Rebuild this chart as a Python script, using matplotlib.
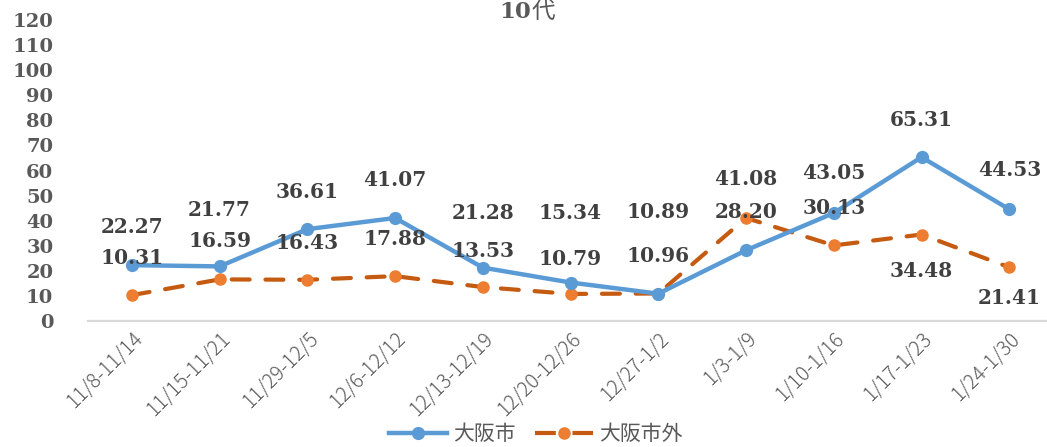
import matplotlib
matplotlib.use("Agg")
import matplotlib.pyplot as plt
from matplotlib.lines import Line2D

# Weekly values, age group 10-19
weeks = ["11/8-11/14", "11/15-11/21", "11/29-12/5", "12/6-12/12", "12/13-12/19",
         "12/20-12/26", "12/27-1/2", "1/3-1/9", "1/10-1/16", "1/17-1/23", "1/24-1/30"]
osaka_city = [22.27, 21.77, 36.61, 41.07, 21.28, 15.34, 10.89, 28.20, 43.05, 65.31, 44.53]
osaka_outside = [10.31, 16.59, 16.43, 17.88, 13.53, 10.79, 10.96, 41.08, 30.13, 34.48, 21.41]
y_ticks = list(range(0, 121, 10))

# Vertical offsets (pixels) of the value labels from their points
city_label_dy = [38, 56, 37, 38, 55, 70, 82, 38, 40, 37, 39]
outside_label_dy = [37, 38, 37, 37, 36, 35, 38, 39, 37, -36, -31]

W, H = 1047, 447
fig = plt.figure(figsize=(W / 100, H / 100), dpi=100)
ax = fig.add_axes([88 / W, (H - 321) / H, (W - 88) / W, (321 - 20) / H])

blue = "#5B9BD5"
orange_line = "#C55A11"
orange_mark = "#ED7D31"
label_color = "#404040"
tick_color = "#595959"

x = list(range(len(weeks)))
ax.plot(x, osaka_outside, color=orange_line, lw=3.0, linestyle=(0, (4.3, 3.8)),
        dash_capstyle="round", marker="o", markersize=8,
        markerfacecolor=orange_mark, markeredgecolor=orange_mark, zorder=3)
ax.plot(x, osaka_city, color=blue, lw=3.2, marker="o", markersize=8.5,
        markerfacecolor=blue, markeredgecolor=blue, zorder=4)

lab_font = dict(family="DejaVu Serif", fontweight="bold", fontsize=14.5, color=label_color)
for xi, v, dy in zip(x, osaka_city, city_label_dy):
    ax.annotate(f"{v:.2f}", (xi, v), xytext=(0, dy), textcoords="offset pixels",
                ha="center", va="center", zorder=6, **lab_font)
for xi, v, dy in zip(x, osaka_outside, outside_label_dy):
    ax.annotate(f"{v:.2f}", (xi, v), xytext=(0, dy), textcoords="offset pixels",
                ha="center", va="center", zorder=6, **lab_font)

ax.set_xlim(-0.5, 10.43)
ax.set_ylim(0, 120)
ax.set_yticks(y_ticks)
ax.set_yticklabels([str(t) for t in y_ticks], family="DejaVu Serif",
                   fontweight="bold", fontsize=14, color=tick_color)
ax.tick_params(axis="y", length=0, pad=25)
ax.set_xticks(x)
ax.set_xticklabels(weeks, rotation=45, ha="right", rotation_mode="anchor",
                   family="Noto Sans CJK JP", fontweight="light", fontsize=14.5,
                   color=tick_color)
ax.tick_params(axis="x", length=0, pad=5)

for s in ("left", "right", "top"):
    ax.spines[s].set_visible(False)
ax.spines["bottom"].set_color("#D9D9D9")
ax.spines["bottom"].set_linewidth(1.6)

# Title: bold numerals plus a light kanji
fig.text(531 / W, (H - 18) / H, "10", ha="right", va="baseline",
         family="DejaVu Serif", fontweight="bold", fontsize=16.5, color=tick_color)
fig.text(532 / W, (H - 18) / H, "代", ha="left", va="baseline",
         family="Noto Sans CJK JP", fontsize=17, color=tick_color)

handles = [
    Line2D([], [], color=blue, lw=3.2, marker="o", markersize=8.5,
           markerfacecolor=blue, markeredgecolor=blue),
    Line2D([], [], color=orange_line, lw=3.0, linestyle=(0, (5.0, 4.0)),
           marker="o", markersize=8, markerfacecolor=orange_mark,
           markeredgecolor=orange_mark),
]
fig.legend(handles, ["大阪市", "大阪市外"], loc="center", bbox_to_anchor=(536 / W, (H - 434) / H),
           ncol=2, frameon=False, handlelength=2.8, handletextpad=0.3, columnspacing=0.9,
           prop={"family": "Noto Sans CJK JP", "size": 15}, labelcolor=tick_color)

fig.savefig("out.png", dpi=100)
